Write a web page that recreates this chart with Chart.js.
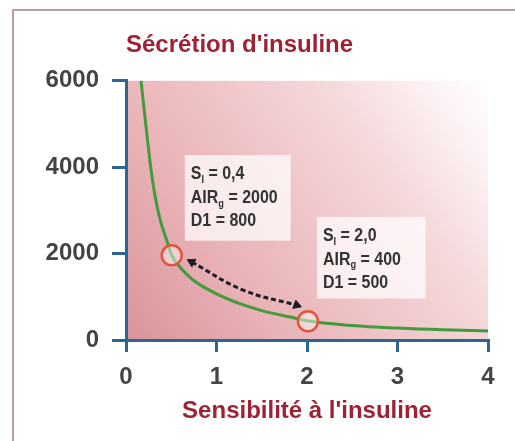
<!DOCTYPE html>
<html lang="fr">
<head>
  <meta charset="UTF-8" />
  <title>Sécrétion d'insuline</title>
  <script src="https://cdn.jsdelivr.net/npm/chart.js"></script>
  <style>
    body {
      margin: 0;
      background: #ffffff;
      overflow: hidden;
    }

    .chart-box {
      position: absolute;
      left: 0;
      top: 0;
      width: 515px;
      height: 441px;
    }
  </style>
</head>
<body>
  <div class="chart-box">
    <canvas id="myChart"></canvas>
  </div>

  <script>
    // values
    const curveX = [0.166, 0.221, 0.287, 0.368, 0.46, 0.505, 0.6, 0.744, 1.11, 1.48, 1.85, 2.0, 2.5, 3.0, 3.5, 4.0];
    const curveY = [6000, 4940, 3780, 2860, 2245, 1960, 1680, 1384, 962, 692, 515, 445, 335, 275, 235, 210];

    const circleX = [0.505, 2.01];
    const circleY = [1960, 435];

    const arrowX = [0.726, 1.296, 1.886];
    const arrowY = [1806, 1153, 807];

    const xTicks = [0, 1, 2, 3, 4];
    const yTicks = [0, 2000, 4000, 6000];

    // annotation boxes: corners in data units, lines "Name_sub rest"
    const noteCorners = [
      [0.65, 4280, 1.82, 2300],
      [2.11, 2850, 3.31, 960]
    ];
    const noteLines = [
      ["S_I = 0,4", "AIR_g = 2000", "D1 = 800"],
      ["S_I = 2,0", "AIR_g = 400", "D1 = 500"]
    ];

    const axisBlue = "#2c6590";
    const titleRed = "#9f2234";
    const tickFont = { family: "'Liberation Sans', Arial, sans-serif", size: 24, weight: "bold" };

    const toPoints = (xs, ys) => xs.map((x, i) => ({ x: x, y: ys[i] }));

    const plotBackground = {
      id: "plotBackground",
      beforeDraw(chart) {
        const { ctx, chartArea: a } = chart;
        // outer frame, top and left edges only
        ctx.save();
        ctx.strokeStyle = "#b79dac";
        ctx.lineWidth = 2;
        ctx.beginPath();
        ctx.moveTo(13, chart.height);
        ctx.lineTo(13, 10);
        ctx.lineTo(chart.width, 10);
        ctx.stroke();

        const g = ctx.createLinearGradient(a.left, a.bottom, a.right, a.top);
        g.addColorStop(0, "#d8949a");
        g.addColorStop(0.3, "#e9b4b8");
        g.addColorStop(0.5, "#efc6c9");
        g.addColorStop(0.7, "#f5d9db");
        g.addColorStop(0.88, "#fcf1f2");
        g.addColorStop(1, "#ffffff");
        ctx.fillStyle = g;
        ctx.fillRect(a.left, a.top, a.right - a.left, a.bottom - a.top);
        ctx.restore();
      }
    };

    const noteBoxes = {
      id: "noteBoxes",
      afterDatasetsDraw(chart) {
        const { ctx, scales } = chart;
        ctx.save();
        noteCorners.forEach((c, n) => {
          const x1 = scales.x.getPixelForValue(c[0]);
          const y1 = scales.y.getPixelForValue(c[1]);
          const x2 = scales.x.getPixelForValue(c[2]);
          const y2 = scales.y.getPixelForValue(c[3]);
          ctx.fillStyle = "rgba(255,255,255,0.72)";
          ctx.fillRect(x1, y1, x2 - x1, y2 - y1);

          ctx.fillStyle = "#333333";
          ctx.textBaseline = "middle";
          noteLines[n].forEach((line, i) => {
            const m = line.match(/^(\w+?)_(\w)(.*)$/);
            const parts = m ? [m[1], m[2], m[3]] : [line, "", ""];
            ctx.save();
            ctx.translate(x1 + 6, y1 + 19 + i * 23.5);
            ctx.scale(0.84, 1);
            let px = 0;
            ctx.font = "bold 19px 'Liberation Sans', Arial, sans-serif";
            ctx.fillText(parts[0], px, 0);
            px += ctx.measureText(parts[0]).width;
            if (parts[1]) {
              ctx.font = "bold 11px 'Liberation Sans', Arial, sans-serif";
              ctx.fillText(parts[1], px, 6);
              px += ctx.measureText(parts[1]).width;
            }
            ctx.font = "bold 19px 'Liberation Sans', Arial, sans-serif";
            ctx.fillText(parts[2], px, 0);
            ctx.restore();
          });
        });
        ctx.restore();
      }
    };

    const ctx = document.getElementById("myChart").getContext("2d");

    new Chart(ctx, {
      type: "scatter",
      data: {
        datasets: [
          {
            label: "Courbe",
            data: toPoints(curveX, curveY),
            showLine: true,
            borderColor: "#449a3c",
            borderWidth: 3,
            pointRadius: 0,
            cubicInterpolationMode: "monotone",
            clip: false,
            order: 3
          },
          {
            label: "Flèche",
            data: toPoints(arrowX, arrowY),
            showLine: true,
            borderColor: "#1c1c24",
            backgroundColor: "#1c1c24",
            borderWidth: 3,
            borderDash: [5, 3],
            tension: 0.4,
            pointStyle: "triangle",
            pointRadius: [5, 0, 5],
            pointRotation: [-62, 0, 110],
            pointBorderWidth: 1,
            order: 2
          },
          {
            label: "Points",
            data: toPoints(circleX, circleY),
            showLine: false,
            borderColor: "#e2553c",
            backgroundColor: "rgba(255,255,255,0.45)",
            borderWidth: 2.5,
            pointRadius: 10,
            order: 1
          }
        ]
      },
      options: {
        responsive: true,
        maintainAspectRatio: false,
        animation: false,
        events: [],
        layout: { padding: { left: 0, right: 27, top: 0, bottom: 0 } },
        plugins: {
          legend: { display: false },
          tooltip: { enabled: false },
          title: {
            display: true,
            text: "Sécrétion d'insuline",
            align: "start",
            fullSize: false,
            color: titleRed,
            font: { family: "'Liberation Sans', Arial, sans-serif", size: 24, weight: "bold" },
            padding: { top: 31, bottom: 21 }
          }
        },
        scales: {
          x: {
            type: "linear",
            min: 0,
            max: 4,
            afterFit: s => { s.height = 101; },
            afterBuildTicks: s => { s.ticks = xTicks.map(v => ({ value: v })); },
            border: { color: axisBlue, width: 3 },
            grid: { drawOnChartArea: false, color: axisBlue, lineWidth: 3, tickLength: 12 },
            ticks: {
              color: "#444444",
              padding: 11,
              font: tickFont,
              callback: v => String(v)
            },
            title: {
              display: true,
              text: "Sensibilité à l'insuline",
              color: titleRed,
              font: { family: "'Liberation Sans', Arial, sans-serif", size: 24, weight: "bold" },
              padding: { top: 0, bottom: 15 }
            }
          },
          y: {
            type: "linear",
            min: 0,
            max: 6000,
            afterFit: s => { s.width = 126; },
            afterBuildTicks: s => { s.ticks = yTicks.map(v => ({ value: v })); },
            border: { color: axisBlue, width: 3 },
            grid: { drawOnChartArea: false, color: axisBlue, lineWidth: 3, tickLength: 14 },
            ticks: {
              color: "#444444",
              padding: 13,
              font: tickFont,
              callback: v => String(v)
            }
          }
        }
      },
      plugins: [plotBackground, noteBoxes]
    });
  </script>
</body>
</html>
